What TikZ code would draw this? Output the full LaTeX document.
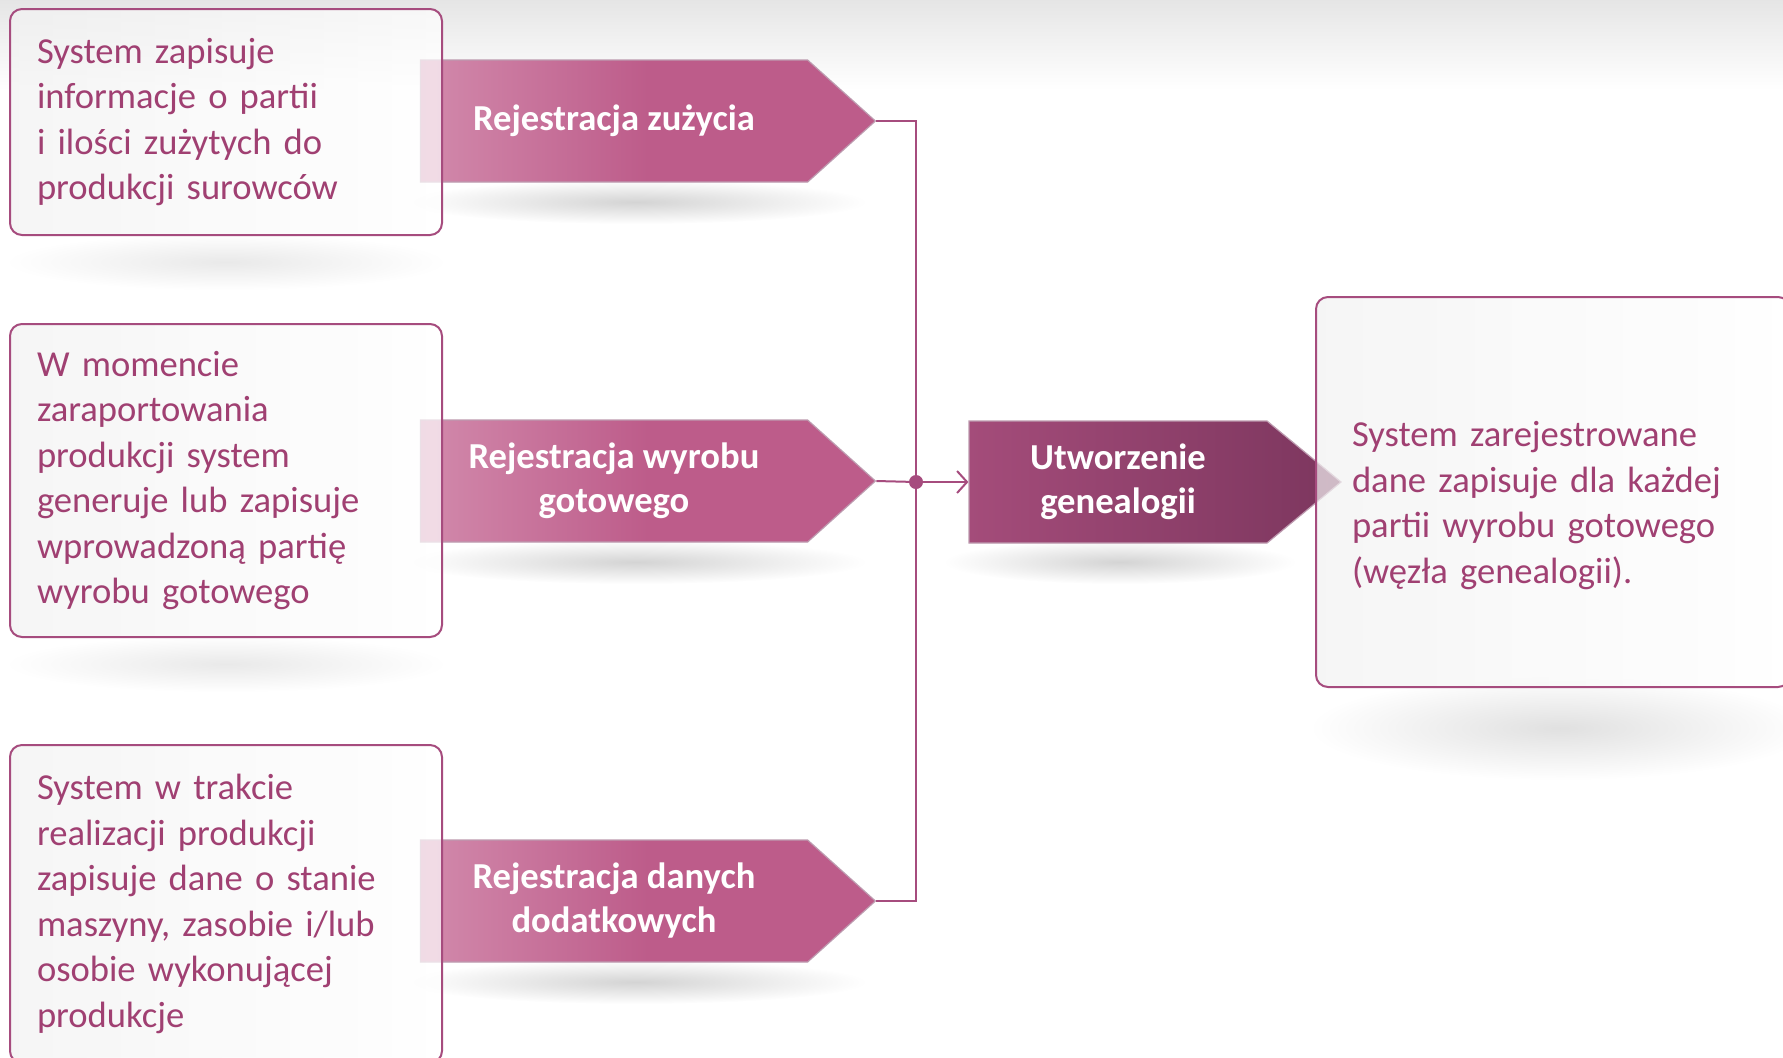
\documentclass[tikz,border=0pt]{standalone}
\usepackage{fontspec}
\setmainfont{Carlito}
\usepackage{tikz}
\usetikzlibrary{shapes.symbols,arrows.meta,fadings,positioning}
\usepackage{xcolor}
\definecolor{gnpink}{RGB}{189,92,138}
\definecolor{gnpinklight}{RGB}{210,138,172}
\definecolor{gndark}{RGB}{124,54,94}
\definecolor{gndarklight}{RGB}{164,76,122}
\definecolor{gnline}{RGB}{166,76,126}
\definecolor{gntext}{RGB}{160,64,114}
\tikzfading[name=softshadow, inner color=transparent!15, outer color=transparent!100]
\tikzstyle{infobox} = [rectangle, rounded corners=6pt, draw=gnline, line width=1pt, left color=black!5, right color=white, fill opacity=0.7, text opacity=1, text=gntext, align=left, inner xsep=13.5pt, font=\fontsize{18.3}{22.75}\selectfont]
\tikzstyle{stagearrow} = [signal, signal to=east, signal from=nowhere, signal pointer angle=84, minimum width=227.5pt, minimum height=61pt, left color=gnpinklight, right color=gnpink, middle color=gnpink, draw=gndark!50, line width=0.6pt, text=white, align=center, font=\bfseries\fontsize{18.3}{22}\selectfont]
\tikzstyle{link} = [line width=1pt,->,>={Straight Barb[length=5pt,width=11pt]},color=gnline]
\tikzstyle{shadowblob} = [black, opacity=0.2, path fading=softshadow]

\begin{document}
\begin{tikzpicture}[x=0.5pt,y=-0.5pt]
\useasboundingbox (0,0) rectangle (1783,1057);
\fill[white] (0,0) rectangle (1783,1057);
\shade[top color=black!10, bottom color=white] (0,0) rectangle (1783,90);
% soft shadows
\fill[shadowblob] (636,202) ellipse [x radius=115pt, y radius=11pt];
\fill[shadowblob] (636,562) ellipse [x radius=115pt, y radius=11pt];
\fill[shadowblob] (636,982) ellipse [x radius=115pt, y radius=11pt];
\fill[shadowblob] (1120,562) ellipse [x radius=88pt, y radius=11pt];
\fill[shadowblob, opacity=0.1] (226,262) ellipse [x radius=110pt, y radius=14pt];
\fill[shadowblob, opacity=0.1] (226,664) ellipse [x radius=110pt, y radius=14pt];
\fill[shadowblob, opacity=0.14] (1560,728) ellipse [x radius=125pt, y radius=26pt];
% stages
\node (reg1) [stagearrow] at (614,121) {Rejestracja zużycia};
\node (reg2) [stagearrow] at (614,481) {Rejestracja wyrobu\\gotowego};
\node (reg3) [stagearrow] at (614,901) {Rejestracja danych\\dodatkowych};
\node (gen) [stagearrow, minimum width=186pt, signal pointer angle=79, left color=gndarklight, middle color=gndark, right color=gndark] at (1118,482) {Utworzenie\\genealogii};
% descriptions
\node (desc1) [infobox, minimum width=216pt, minimum height=113pt, text width=189pt] at (226,122) {System zapisuje\\informacje o partii\\i ilości zużytych do\\produkcji surowców};
\node (desc2) [infobox, minimum width=216pt, minimum height=156.5pt, text width=189pt] at (226,480.5) {W momencie\\zaraportowania\\produkcji system\\generuje lub zapisuje\\wprowadzoną partię\\wyrobu gotowego};
\node (desc3) [infobox, minimum width=216pt, minimum height=159pt, text width=189pt] at (226,904) {System w trakcie\\realizacji produkcji\\zapisuje dane o stanie\\maszyny, zasobie i/lub\\osobie wykonującej\\produkcje};
\node (result) [infobox, minimum width=237pt, minimum height=195pt, text width=201pt, inner xsep=18pt] at (1553,492) {\rule{0pt}{26pt}System zarejestrowane\\dane zapisuje dla każdej\\partii wyrobu gotowego\\(węzła genealogii).};
% connectors
\coordinate (jn) at (916,482);
\draw[link, -] (reg1.east) -| (jn) |- (reg3.east);
\draw[link, -] (reg2.east) -- (jn);
\draw[link] (jn) -- (gen.west);
\fill[gnline] (jn) circle (3.5pt);
\end{tikzpicture}
\end{document}
